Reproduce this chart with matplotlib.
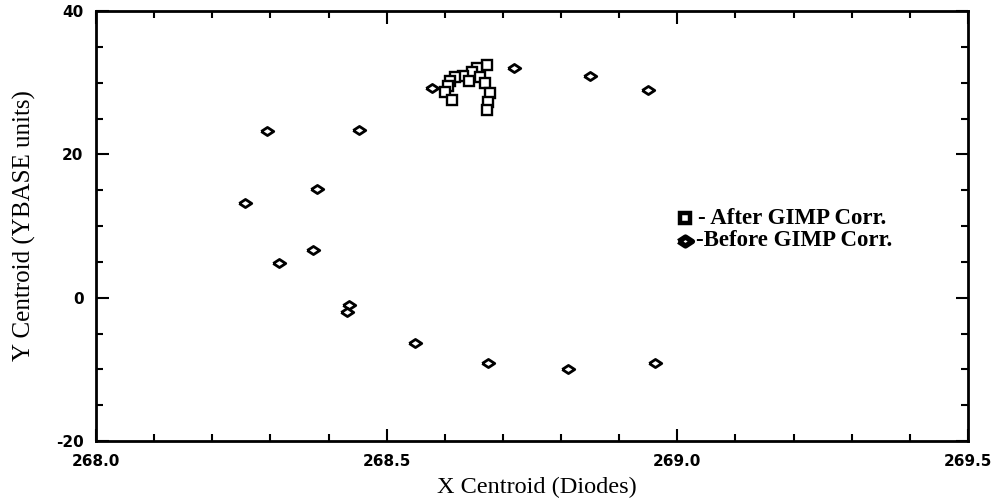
import matplotlib
matplotlib.use("Agg")
import matplotlib.pyplot as plt
from matplotlib.ticker import MultipleLocator

# Data
before_x = [268.256, 268.294, 268.315, 268.374, 268.380, 268.436, 268.431, 268.453,
            268.549, 268.675, 268.812, 268.962, 268.950, 268.850, 268.719, 268.578]
before_y = [13.2, 23.3, 4.8, 6.7, 15.1, -1.0, -2.0, 23.4,
            -6.3, -9.1, -10.0, -9.1, 29.0, 31.0, 32.0, 29.3]

after_x = [268.673, 268.655, 268.646, 268.632, 268.618, 268.609, 268.606, 268.600,
           268.612, 268.641, 268.661, 268.670, 268.678, 268.675, 268.673]
after_y = [32.4, 32.1, 31.5, 31.0, 30.8, 30.3, 29.6, 28.7,
           27.6, 30.3, 30.8, 29.9, 28.5, 27.3, 26.2]

x_ticks = [268.0, 268.5, 269.0, 269.5]
y_ticks = [-20, 0, 20, 40]
x_label = "X Centroid (Diodes)"
y_label = "Y Centroid (YBASE units)"
legend_labels = ["- After GIMP Corr.", "-Before GIMP Corr."]

W, H = 1005, 500
fig = plt.figure(figsize=(W / 100, H / 100), dpi=100)
ax = fig.add_axes([96 / W, 1 - 441 / H, (968 - 96) / W, (441 - 11) / H])

diamond = [(-1.0, 0.0), (0.0, 0.65), (1.0, 0.0), (0.0, -0.65), (-1.0, 0.0)]

ax.plot(before_x, before_y, linestyle='none', marker=diamond, markersize=9,
        markerfacecolor='white', markeredgecolor='black', markeredgewidth=2.0)
ax.plot(after_x, after_y, linestyle='none', marker='s', markersize=6.8,
        markerfacecolor='white', markeredgecolor='black', markeredgewidth=1.7)

ax.set_xlim(268.0, 269.5)
ax.set_ylim(-20, 40)
ax.set_xticks(x_ticks)
ax.set_xticklabels([f"{v:.1f}" for v in x_ticks])
ax.set_yticks(y_ticks)
ax.set_yticklabels([str(v) for v in y_ticks])
ax.xaxis.set_minor_locator(MultipleLocator(0.1))
ax.yaxis.set_minor_locator(MultipleLocator(5))

ax.tick_params(which='both', direction='in', top=True, right=True, width=1.5, colors='black')
ax.tick_params(which='major', length=9)
ax.tick_params(which='minor', length=5)
ax.tick_params(axis='x', which='major', pad=9)
ax.tick_params(axis='y', which='major', pad=9)
for lab in ax.get_xticklabels() + ax.get_yticklabels():
    lab.set_fontfamily('DejaVu Sans')
    lab.set_fontweight('bold')
    lab.set_fontsize(11)

for s in ax.spines.values():
    s.set_linewidth(2)

fig.text(537 / W, 1 - 487 / H, x_label, fontfamily='Liberation Serif', fontsize=17.5,
         ha='center', va='center')
fig.text(24 / W, 1 - 226 / H, y_label, fontfamily='Liberation Serif', fontsize=18,
         ha='center', va='center', rotation=90)

# legend entries (markers in axes-fraction coordinates)
def ax_frac(px, py):
    return ((px - 96) / (968 - 96), (441 - py) / (441 - 11))

mx, my1 = ax_frac(685, 218)
_, my2 = ax_frac(685, 241)
ax.plot([mx], [my1], transform=ax.transAxes, linestyle='none', marker='s', markersize=7,
        markerfacecolor='white', markeredgecolor='black', markeredgewidth=3.2, clip_on=False)
ax.plot([mx], [my2], transform=ax.transAxes, linestyle='none', marker=diamond, markersize=10,
        markerfacecolor='white', markeredgecolor='black', markeredgewidth=3.8, clip_on=False)
fig.text(698 / W, 1 - 218 / H, legend_labels[0], fontfamily='Liberation Serif', fontsize=16.5,
         fontweight='bold', ha='left', va='center')
fig.text(696 / W, 1 - 241 / H, legend_labels[1], fontfamily='Liberation Serif', fontsize=16.5,
         fontweight='bold', ha='left', va='center')

fig.savefig("out.png", dpi=100, facecolor='white')
